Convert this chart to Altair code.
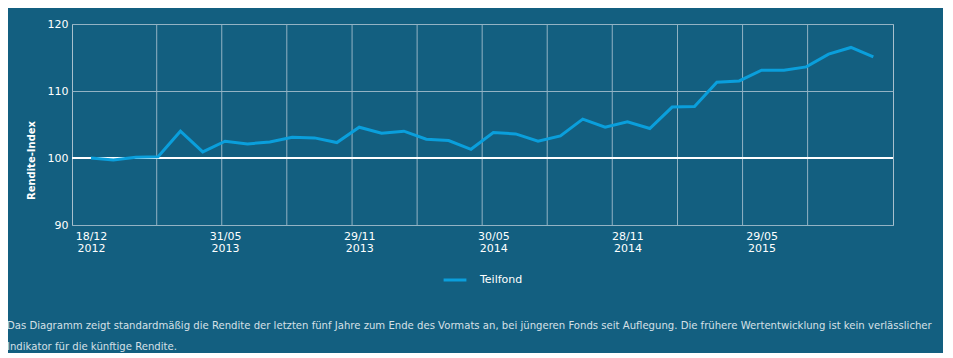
import altair as alt
import pandas as pd

# ---------------- data ----------------
dates = [
    "18/12/2012", "31/12/2012",
    "31/01/2013", "28/02/2013", "29/03/2013", "30/04/2013", "31/05/2013", "28/06/2013",
    "31/07/2013", "30/08/2013", "30/09/2013", "31/10/2013", "29/11/2013", "31/12/2013",
    "31/01/2014", "28/02/2014", "31/03/2014", "30/04/2014", "30/05/2014", "30/06/2014",
    "31/07/2014", "29/08/2014", "30/09/2014", "31/10/2014", "28/11/2014", "31/12/2014",
    "30/01/2015", "27/02/2015", "31/03/2015", "30/04/2015", "29/05/2015", "30/06/2015",
    "31/07/2015", "31/08/2015", "30/09/2015", "30/10/2015",
]
values = [
    100.0, 99.7, 100.1, 100.2, 104.0, 100.9, 102.5, 102.1, 102.4, 103.1,
    103.0, 102.3, 104.6, 103.7, 104.0, 102.8, 102.6, 101.3, 103.8, 103.6,
    102.5, 103.3, 105.8, 104.6, 105.4, 104.4, 107.6, 107.7, 111.3, 111.5,
    113.1, 113.1, 113.6, 115.5, 116.5, 115.1,
]
series_name = "Teilfond"

tick_index = [0, 6, 12, 18, 24, 30]
tick_day = ["18/12", "31/05", "29/11", "30/05", "28/11", "29/05"]
tick_year = ["2012", "2013", "2013", "2014", "2014", "2015"]

grid_x = [2.94, 5.85, 8.76, 11.68, 14.59, 17.50, 20.41, 23.32, 26.24, 29.15, 32.06]
y_ticks = [90, 100, 110, 120]
baseline = [100]

footer = [
    "Das Diagramm zeigt standardmäßig die Rendite der letzten fünf Jahre zum Ende des Vormats an, "
    "bei jüngeren Fonds seit Auflegung. Die frühere Wertentwicklung ist kein verlässlicher",
    "Indikator für die künftige Rendite.",
]

# ---------------- tables ----------------
df = pd.DataFrame({"i": list(range(len(values))), "datum": dates, "v": values,
                   "serie": [series_name] * len(values)})
df_grid = pd.DataFrame({"gx": grid_x})
df_base = pd.DataFrame({"b": baseline})

FONT = "DejaVu Sans"
BG = "#135f80"
GRID = "#93b3c4"
LINE = "#0a9fdc"

label_expr = ""
for idx, d, y in zip(tick_index, tick_day, tick_year):
    label_expr += f"datum.value == {idx} ? ['{d}', '{y}'] : "
label_expr += "''"

x_scale = alt.Scale(domain=[-0.85, 35.88], nice=False, zero=False)
y_scale = alt.Scale(domain=[90, 120], nice=False, zero=False)

x_axis = alt.Axis(values=tick_index, labelExpr=label_expr, grid=False, ticks=False,
                  domain=False, labelColor="white", labelFont=FONT, labelFontSize=11,
                  labelPadding=5, labelLineHeight=12, labelBaseline="top", title=None)
y_axis = alt.Axis(values=y_ticks, grid=True, gridColor=GRID, gridWidth=1, ticks=False,
                  domain=False, labelColor="white", labelFont=FONT, labelFontSize=11,
                  labelPadding=4, title="Rendite-Index", titleColor="white",
                  titleFont=FONT, titleFontSize=10, titleFontWeight="bold",
                  titleAngle=270, titleAlign="center", titleBaseline="middle",
                  titleX=-41, titleY=136)

grid_layer = alt.Chart(df_grid).mark_rule(color=GRID, strokeWidth=1).encode(
    x=alt.X("gx:Q", scale=x_scale, axis=x_axis)
)

base_layer = alt.Chart(df_base).mark_rule(color="white", strokeWidth=2).encode(
    y=alt.Y("b:Q", scale=y_scale, axis=y_axis)
)

line_layer = alt.Chart(df).mark_line(strokeWidth=3, strokeJoin="miter").encode(
    x=alt.X("i:Q", scale=x_scale, axis=x_axis),
    y=alt.Y("v:Q", scale=y_scale, axis=y_axis),
    color=alt.Color("serie:N", scale=alt.Scale(range=[LINE]),
                    legend=alt.Legend(title=None, orient="none", legendX=370, legendY=243,
                                      symbolType="stroke", symbolSize=520,
                                      symbolStrokeWidth=3, labelColor="white",
                                      labelFont=FONT, labelFontSize=11, labelOffset=12,
                                      padding=0)),
)

chart = (
    alt.layer(grid_layer, base_layer, line_layer)
    .properties(
        width=821,
        height=201,
        autosize=alt.AutoSizeParams(type="none"),
        padding={"left": 64, "top": 16, "right": 50, "bottom": 128},
        title=alt.TitleParams(text=footer, orient="bottom", anchor="start", frame="group",
                              dx=-65, offset=35, font=FONT, fontSize=10.1,
                              fontWeight="normal", color="#d5e0e7", lineHeight=21,
                              baseline="top"),
    )
    .configure(background=BG)
    .configure_view(stroke="#a8c0cd", strokeWidth=1)
)

chart.save("out.html", embed_options={"renderer": "svg", "actions": False})
